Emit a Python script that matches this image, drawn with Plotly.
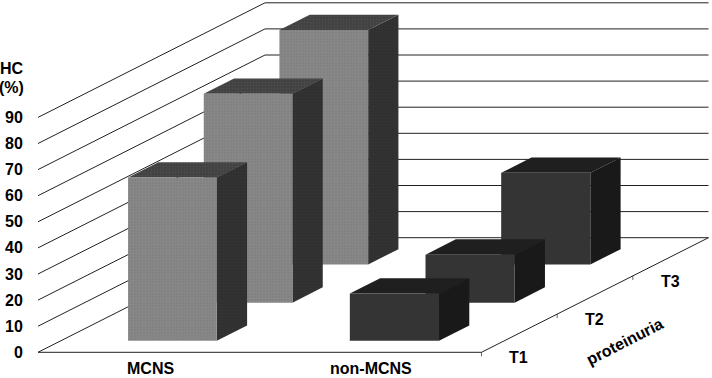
import plotly.graph_objects as go

# Data
groups = ["MCNS", "non-MCNS"]
depths = ["T1", "T2", "T3"]
mcns = [62.6, 80, 89.8]
non_mcns = [18.1, 18.4, 35.1]
y_ticks = list(range(0, 100, 10))

# Oblique projection of the chart's box onto the page
X0, Y0 = 38.0, 352.3
W = 443.5
DX, DY = 227.0, -114.6
PER = 2.61
GROUP_EDGES = [(0.152, 0.352), (0.652, 0.853)]
BAR_DEPTH = 0.1335


def P(u, d, v):
    return X0 + u * W + d * DX, Y0 + d * DY - v * PER


STY = [
    (("#7f7f7f", "#969696"), ("#2e2e2e", "#3a3a3a"), ("#3e3e3e", "#565656")),
    (("#343434", None), ("#191919", None), ("#1f1f1f", None)),
]

fig = go.Figure()


def line(pts, color="#222222", width=1.0):
    fig.add_trace(go.Scatter(x=[p[0] for p in pts], y=[p[1] for p in pts], mode="lines",
                             line=dict(color=color, width=width), hoverinfo="skip", showlegend=False))


def face(pts, colors):
    pts = pts + [pts[0]]
    base, dot = colors
    kw = {}
    if dot:
        kw["fillpattern"] = dict(shape=".", bgcolor=base, fgcolor=dot, size=3, solidity=0.5)
    fig.add_trace(go.Scatter(x=[p[0] for p in pts], y=[p[1] for p in pts], mode="none", fill="toself",
                             fillcolor=base, hoverinfo="skip", showlegend=False, **kw))


for v in y_ticks:
    line([P(0, 0, v), P(0, 1, v), P(1, 1, v)])
line([P(0, 0, 0), P(1, 0, 0), P(1, 1, 0)])
for k in range(3):
    a = P(1, k / 3, 0)
    line([a, (a[0], a[1] + 4)], width=0.7)

for k in [2, 1, 0]:
    d0 = (k + 0.5) / 3 - BAR_DEPTH / 2
    d1 = d0 + BAR_DEPTH
    for g, vals in enumerate([mcns, non_mcns]):
        u0, u1 = GROUP_EDGES[g]
        v = vals[k]
        front, side, top = STY[g]
        face([P(u1, d0, 0), P(u1, d1, 0), P(u1, d1, v), P(u1, d0, v)], side)
        face([P(u0, d0, v), P(u1, d0, v), P(u1, d1, v), P(u0, d1, v)], top)
        face([P(u0, d0, 0), P(u1, d0, 0), P(u1, d0, v), P(u0, d0, v)], front)

font = dict(family="Liberation Sans", size=16, color="#000000")
ann = []


def text(x, y, s, **kw):
    ann.append(dict(x=x, y=y, text="<b>%s</b>" % s, showarrow=False, font=font, xref="x", yref="y", borderpad=0, **kw))


for v in y_ticks:
    text(23.5, Y0 - v * PER, str(v), xanchor="right", yanchor="middle")
text(24.5, 68, "HC", xanchor="right", yanchor="middle")
text(25, 87, "(%)", xanchor="right", yanchor="middle")
text(150, 368.5, groups[0], xanchor="center", yanchor="middle")
text(371, 368.5, groups[1], xanchor="center", yanchor="middle")
text(518.5, 357.5, depths[0], xanchor="center", yanchor="middle")
text(594.5, 319, depths[1], xanchor="center", yanchor="middle")
text(670.5, 281, depths[2], xanchor="center", yanchor="middle")
text(625, 341.5, "proteinuria", xanchor="center", yanchor="middle", textangle=-27)

fig.update_layout(
    width=712, height=378, margin=dict(l=0, r=0, t=0, b=0), autosize=False,
    paper_bgcolor="white", plot_bgcolor="white", showlegend=False, annotations=ann,
    xaxis=dict(range=[0, 712], visible=False, fixedrange=True),
    yaxis=dict(range=[378, 0], visible=False, fixedrange=True),
)
fig.write_html("out.html", config=dict(displayModeBar=False),
               post_script="document.body.style.margin='0';document.documentElement.style.overflow='hidden';")
